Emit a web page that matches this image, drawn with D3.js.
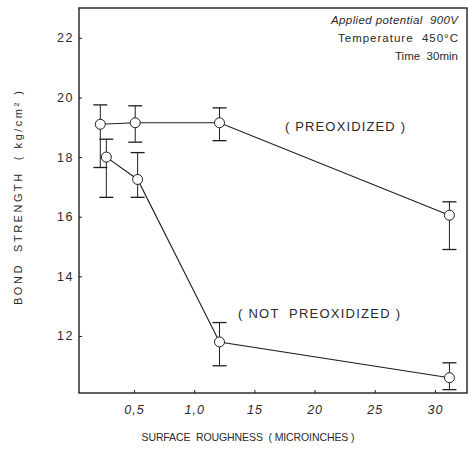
<!DOCTYPE html>
<html>
<head>
<meta charset="utf-8">
<script src="https://cdn.jsdelivr.net/npm/d3@7"></script>
<style>
  html, body { margin: 0; padding: 0; background: #fff; }
  svg { display: block; }
  text { font-family: "Liberation Sans", "DejaVu Sans", sans-serif; fill: #2a2a2a; white-space: pre; }
</style>
</head>
<body>
<svg id="chart" width="473" height="451"></svg>
<script>
// ---- data ----
const xTickValues = [5, 10, 15, 20, 25, 30];
const xTickLabels = ["0,5", "1,0", "15", "20", "25", "30"];
const yTickValues = [12, 14, 16, 18, 20, 22];
const yTickLabels = ["12", "14", "16", "18", "20", "22"];

const preRoughness = [2.2, 5.1, 12.1, 31.2];
const preStrength  = [19.1, 19.15, 19.15, 16.05];
const preHigh      = [19.75, 19.72, 19.65, 16.5];
const preLow       = [17.65, 18.5, 18.55, 14.9];

const notRoughness = [2.7, 5.3, 12.1, 31.2];
const notStrength  = [18.0, 17.25, 11.8, 10.6];
const notHigh      = [18.6, 18.15, 12.45, 11.1];
const notLow       = [16.65, 16.65, 11.0, 10.2];

const conditionLines = ["Applied potential  900V", "Temperature  450°C", "Time  30min"];
const seriesLabels = ["( PREOXIDIZED )", "( NOT  PREOXIDIZED )"];
const xTitle = "SURFACE  ROUGHNESS  ( MICROINCHES )";
const yTitle = "BOND  STRENGTH  ( kg/cm² )";

// ---- layout ----
const svg = d3.select("#chart");
const L = 79, R = 467, T = 8, B = 393;
const x = d3.scaleLinear().domain([0.43, 32.66]).range([L, R]);
const y = d3.scaleLinear().domain([10.087, 23.0]).range([B, T]);
const ink = "#1e1e1e";

// frame
svg.append("rect").attr("x", L).attr("y", T).attr("width", R - L).attr("height", B - T)
  .attr("fill", "none").attr("stroke", ink).attr("stroke-width", 1.4);

// axes
const xAxis = d3.axisBottom(x).tickValues(xTickValues)
  .tickFormat((d, i) => xTickLabels[i]).tickSizeInner(-3).tickSizeOuter(0).tickPadding(12);
const gx = svg.append("g").attr("transform", `translate(0,${B})`).call(xAxis);
gx.select(".domain").remove();
gx.selectAll("line").attr("stroke", ink);
gx.selectAll("text").attr("font-size", 12.5).attr("font-style", "italic").attr("fill", "#2a2a2a")
  .attr("letter-spacing", 1);

const yAxis = d3.axisLeft(y).tickValues(yTickValues)
  .tickFormat((d, i) => yTickLabels[i]).tickSizeInner(-3).tickSizeOuter(0).tickPadding(5);
const gy = svg.append("g").attr("transform", `translate(${L},0)`).call(yAxis);
gy.select(".domain").remove();
gy.selectAll("line").attr("stroke", ink);
gy.selectAll("text").attr("font-size", 12.5).attr("fill", "#2a2a2a").attr("letter-spacing", 1.5);

// titles
svg.append("text").attr("x", 248).attr("y", 441).attr("text-anchor", "middle")
  .attr("font-size", 10.5).attr("textLength", 213).attr("lengthAdjust", "spacing").text(xTitle);
svg.append("text").attr("transform", `translate(22,${198}) rotate(-90)`).attr("text-anchor", "middle")
  .attr("font-size", 11).attr("textLength", 214).attr("lengthAdjust", "spacing").text(yTitle);

// condition text
const condLen = [127, 120, 63];
conditionLines.forEach((t, i) => {
  svg.append("text").attr("x", 458).attr("y", 24 + i * 18).attr("text-anchor", "end")
    .attr("font-size", 11.5).attr("font-style", i === 0 ? "italic" : "normal")
    .attr("textLength", condLen[i]).attr("lengthAdjust", "spacing").text(t);
});

// series
const series = [
  { xs: preRoughness, ys: preStrength, hi: preHigh, lo: preLow },
  { xs: notRoughness, ys: notStrength, hi: notHigh, lo: notLow }
];
const line = d3.line().x(d => x(d[0])).y(d => y(d[1]));
series.forEach(s => {
  const pts = s.xs.map((v, i) => [v, s.ys[i], s.hi[i], s.lo[i]]);
  svg.append("path").datum(pts).attr("d", line).attr("fill", "none")
    .attr("stroke", ink).attr("stroke-width", 1.1);
  const g = svg.append("g");
  pts.forEach(p => {
    const cx = x(p[0]);
    g.append("line").attr("x1", cx).attr("x2", cx).attr("y1", y(p[2])).attr("y2", y(p[3]))
      .attr("stroke", ink).attr("stroke-width", 1);
    [p[2], p[3]].forEach(v => {
      g.append("line").attr("x1", cx - 7).attr("x2", cx + 7).attr("y1", y(v)).attr("y2", y(v))
        .attr("stroke", ink).attr("stroke-width", 1.3);
    });
    g.append("circle").attr("cx", cx).attr("cy", y(p[1])).attr("r", 5)
      .attr("fill", "#fff").attr("stroke", ink).attr("stroke-width", 1);
  });
});

// series labels
svg.append("text").attr("x", 285).attr("y", 131).attr("text-anchor", "start")
  .attr("font-size", 13).attr("textLength", 120).attr("lengthAdjust", "spacing").text(seriesLabels[0]);
svg.append("text").attr("x", 238).attr("y", 318).attr("text-anchor", "start")
  .attr("font-size", 13).attr("textLength", 162).attr("lengthAdjust", "spacing").text(seriesLabels[1]);
</script>
</body>
</html>
